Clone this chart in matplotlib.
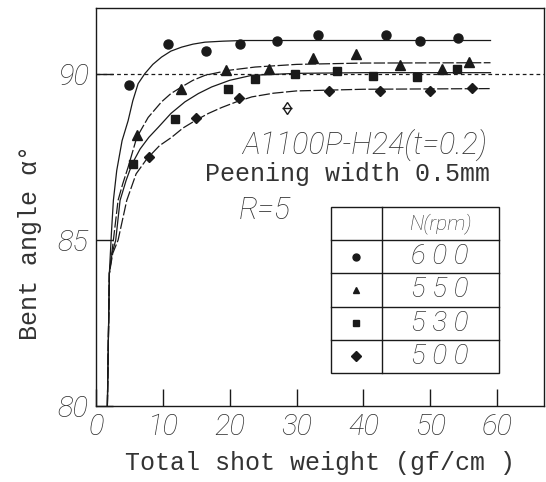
import matplotlib
matplotlib.use("Agg")
import matplotlib.pyplot as plt
from matplotlib.patches import Rectangle

# ---------------- data ----------------
x_ticks = [0, 10, 20, 30, 40, 50, 60]
y_ticks = [80, 85, 90]

# measured points
x600 = [5.0, 10.7, 16.5, 21.5, 27.0, 33.2, 43.3, 48.5, 54.2]
y600 = [89.67, 90.9, 90.7, 90.9, 91.0, 91.2, 91.2, 91.0, 91.1]

x550 = [6.1, 12.7, 19.5, 25.9, 32.4, 38.9, 45.4, 51.8, 55.8]
y550 = [88.18, 89.57, 90.12, 90.15, 90.5, 90.6, 90.27, 90.17, 90.37]

x530 = [5.6, 11.8, 19.7, 23.8, 29.7, 36.0, 41.5, 48.0, 54.0]
y530 = [87.3, 88.65, 89.57, 89.87, 90.02, 90.1, 89.94, 89.92, 90.15]

x500 = [7.9, 14.9, 21.4, 34.9, 42.5, 49.9, 56.2]
y500 = [87.5, 88.67, 89.28, 89.49, 89.51, 89.5, 89.6]

x_odd = [28.5]
y_odd = [89.0]

# fitted curves
cx600 = [1.7, 2.0, 2.3, 2.6, 3.1, 3.9, 4.8, 5.5, 6.3, 7.3, 8.5, 9.8, 11.2, 12.8, 14.5, 16.3, 19.0, 22.0, 30.0, 59.0]
cy600 = [80.0, 84.0, 85.2, 86.2, 87.1, 88.0, 88.6, 89.2, 89.72, 90.02, 90.3, 90.52, 90.7, 90.82, 90.91, 90.97, 91.0, 91.02, 91.02, 91.02]

cx550 = [1.7, 2.0, 2.6, 3.3, 4.0, 4.8, 6.1, 7.8, 9.8, 11.2, 12.8, 14.5, 16.3, 19.8, 23.8, 30.0, 40.0, 59.0]
cy550 = [80.0, 84.0, 85.0, 86.2, 86.7, 87.2, 88.1, 88.7, 89.17, 89.42, 89.62, 89.82, 89.97, 90.12, 90.22, 90.3, 90.34, 90.35]

cx530 = [1.7, 2.0, 2.4, 2.95, 3.6, 4.5, 5.4, 6.6, 7.9, 9.3, 11.2, 13.3, 15.3, 17.3, 20.0, 23.3, 30.0, 40.0, 59.0]
cy530 = [80.0, 84.0, 84.6, 85.0, 86.2, 86.8, 87.3, 87.75, 88.1, 88.4, 88.82, 89.17, 89.42, 89.62, 89.82, 89.97, 90.03, 90.05, 90.05]

cx500 = [1.7, 2.0, 2.5, 3.3, 4.6, 6.0, 7.6, 9.5, 11.3, 13.0, 14.8, 16.8, 18.8, 21.0, 23.3, 26.5, 30.0, 40.0, 59.0]
cy500 = [80.0, 84.0, 84.6, 85.0, 86.2, 87.0, 87.45, 87.85, 88.1, 88.38, 88.6, 88.82, 89.0, 89.17, 89.32, 89.43, 89.5, 89.55, 89.57]

ref_level = 90

legend_header = "N(rpm)"
legend_labels = ["600", "550", "530", "500"]
legend_markers = ["o", "^", "s", "D"]

# ---------------- fonts ----------------
hand = dict(family="Roboto", style="italic", weight="light")
mono = "Liberation Mono"
ink = "#1a1a1a"
text_ink = "#333333"

# ---------------- figure ----------------
W, H = 546, 482
fig = plt.figure(figsize=(W / 100, H / 100), dpi=100)
ax = fig.add_axes([96 / W, 1 - 406 / H, (544 - 96) / W, (406 - 8) / H])
ax.set_xlim(0, 67)
ax.set_ylim(80, 92)

lw = 0.9
ax.plot(cx600, cy600, color=ink, lw=lw)
ax.plot(cx550, cy550, color=ink, lw=lw, dashes=(9, 2))
ax.plot(cx530, cy530, color=ink, lw=lw)
ax.plot(cx500, cy500, color=ink, lw=lw, dashes=(9, 2))
ax.axhline(ref_level, color=ink, lw=0.9, dashes=(3, 2.5))

ms = 6.5
ax.plot(x600, y600, "o", color=ink, ms=ms, ls="none")
ax.plot(x550, y550, "^", color=ink, ms=ms, ls="none")
ax.plot(x530, y530, "s", color=ink, ms=ms - 0.8, ls="none")
ax.plot(x500, y500, "D", color=ink, ms=ms - 1.3, ls="none")
ax.plot(x_odd, y_odd, "d", mfc="white", mec=ink, ms=6, mew=1, ls="none")
ax.plot(x_odd, y_odd, "_", color=ink, ms=7, mew=1, ls="none")

ax.set_xticks(x_ticks)
ax.set_yticks(y_ticks)
tick_font = dict(hand, size=21)
ax.set_xticklabels([str(v) for v in x_ticks], fontdict=tick_font)
ax.set_yticklabels([str(v) for v in y_ticks], fontdict=tick_font)
ax.tick_params(direction="in", length=12, width=1, colors=ink, pad=5)
for lab in ax.get_xticklabels() + ax.get_yticklabels():
    lab.set_color(text_ink)
for s in ax.spines.values():
    s.set_color(ink)
    s.set_linewidth(1.0)

fig.text(320 / W, 1 - 463 / H, "Total shot weight (gf/cm )", family=mono,
         size=18, ha="center", va="center", color=text_ink)
fig.text(30 / W, 1 - 242 / H, "Bent angle α°", family=mono, size=18,
         rotation=90, ha="center", va="center", color=text_ink)

# annotations
ax.text(21.9, 87.86, "A1100P-H24(t=0.2)", size=22, ha="left",
        va="center", color=text_ink, **hand)
ax.text(58.9, 87.0, "Peening width 0.5mm", family=mono, size=18,
        ha="right", va="center", color=text_ink)
ax.text(21.3, 85.9, "R=5", size=22, ha="left", va="center", color=text_ink, **hand)

# legend table (in data units)
tx0, tx1, tx2 = 35.2, 42.7, 60.2
ty_top, row_h = 86.0, 1.0
n_rows = len(legend_labels) + 1
ax.add_patch(Rectangle((tx0, ty_top - n_rows * row_h), tx2 - tx0, n_rows * row_h,
                       fill=False, ec=ink, lw=1.0, zorder=3))
ax.plot([tx1, tx1], [ty_top, ty_top - n_rows * row_h], color=ink, lw=1.0)
for i in range(1, n_rows):
    ax.plot([tx0, tx2], [ty_top - i * row_h] * 2, color=ink, lw=1.0)
ax.text((tx1 + tx2) / 2, ty_top - 0.5 * row_h, legend_header, size=15,
        ha="center", va="center", color=text_ink, **hand)
for i, (lab, mk) in enumerate(zip(legend_labels, legend_markers)):
    yc = ty_top - (i + 1.5) * row_h
    ax.plot([(tx0 + tx1) / 2], [yc], mk, color=ink, ms=5, ls="none")
    ax.text((tx1 + tx2) / 2, yc, " ".join(lab), size=20,
            ha="center", va="center", color=text_ink, **hand)

fig.savefig("out.png", dpi=100)
